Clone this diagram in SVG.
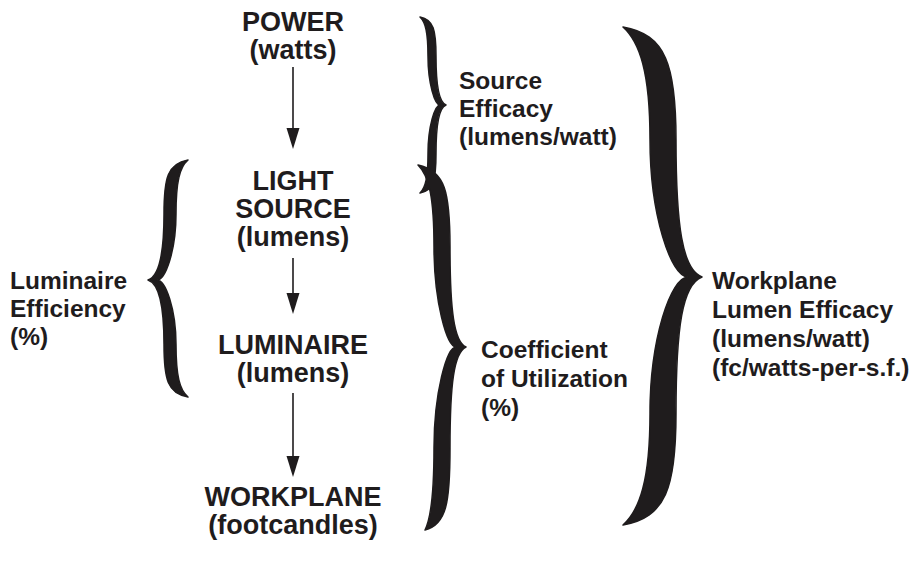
<svg xmlns="http://www.w3.org/2000/svg" width="917" height="568" viewBox="0 0 917 568">
<style>
.main{font-family:"Liberation Sans",Arial,Helvetica,sans-serif;font-weight:bold;font-size:27px;fill:#1f1c1d;text-anchor:middle}
.side{font-family:"Liberation Sans",Arial,Helvetica,sans-serif;font-weight:bold;font-size:24.5px;fill:#1f1c1d}
.brace{fill:#1f1c1d;stroke:#1f1c1d;stroke-width:1.5;stroke-linejoin:round}
.conn{stroke:#1f1c1d;stroke-width:1.6;fill:none}
.head{fill:#1f1c1d}
</style>
<rect width="917" height="568" fill="#ffffff"/>
<g id="connectors">
<line class="conn" x1="293" y1="67" x2="293" y2="129"/>
<path class="head" d="M286.5 128 L299.5 128 L293 149 Z"/>
<line class="conn" x1="293" y1="258" x2="293" y2="294"/>
<path class="head" d="M286.5 293 L299.5 293 L293 314 Z"/>
<line class="conn" x1="293" y1="393" x2="293" y2="457"/>
<path class="head" d="M286.5 456 L299.5 456 L293 477 Z"/>
</g>
<g id="node-power"><text class="main" x="293" y="31">POWER</text><text class="main" x="293" y="59">(watts)</text></g>
<g id="node-light-source"><text class="main" x="293" y="190">LIGHT</text><text class="main" x="293" y="218">SOURCE</text><text class="main" x="293" y="246">(lumens)</text></g>
<g id="node-luminaire"><text class="main" x="293" y="354">LUMINAIRE</text><text class="main" x="293" y="382">(lumens)</text></g>
<g id="node-workplane"><text class="main" x="293" y="506">WORKPLANE</text><text class="main" x="293" y="534">(footcandles)</text></g>
<g id="brace-luminaire-efficiency">
<path class="brace" d="M188 160 C167.6 163.6 164 178 164 214 C164 256 159 276.4 148 280 C159 283.5 164 303.4 164 344.35 C164 379.45 167.6 393.5 188 397 C179.6 390 176 375.9 176 344.35 C176 309.25 165.6 280 157 280 C165.6 280 176 250 176 214 C176 181.6 179.6 167.2 188 160 Z"/>
<text class="side" x="10" y="289">Luminaire</text><text class="side" x="10" y="317">Efficiency</text><text class="side" x="10" y="345">(%)</text>
</g>
<g id="brace-source-efficacy">
<path class="brace" d="M420 17 C433.6 19.6 436 30.2 436 56.6 C436 87.4 439 102.4 446 105 C439 107.6 436 122.6 436 153.4 C436 179.8 433.6 190.4 420 193 C425.6 187.7 428 177.2 428 153.4 C428 127 434.8 105 440 105 C434.8 105 428 83 428 56.6 C428 32.8 425.6 22.3 420 17 Z"/>
<text class="side" x="459" y="89">Source</text><text class="side" x="459" y="117">Efficacy</text><text class="side" x="459" y="145">(lumens/watt)</text>
</g>
<g id="brace-coefficient">
<path class="brace" d="M418 165 C445.2 170.5 450 192.3 450 246.9 C450 310.6 454 341.5 466 347 C454 352.5 450 383.6 450 447.65 C450 502.55 446.6 524.5 425 530 C430.6 519 434 497.1 434 447.65 C434 392.75 446.8 347 456 347 C446.8 347 434 301.5 434 246.9 C434 197.8 429.2 175.9 418 165 Z"/>
<text class="side" x="481" y="358">Coefficient</text><text class="side" x="481" y="387">of Utilization</text><text class="side" x="481" y="416">(%)</text>
</g>
<g id="brace-workplane-efficacy">
<path class="brace" d="M623 27 C665.6 34.5 676 64.5 676 139.5 C676 227 682.5 269.5 702 277 C682.5 284.4 676 326.6 676 413.4 C676 487.8 665.6 517.6 623 525 C639.6 510.1 650 480.4 650 413.4 C650 339 670.8 277 688 277 C670.8 277 650 214.5 650 139.5 C650 72 639.6 42 623 27 Z"/>
<text class="side" x="712" y="289">Workplane</text><text class="side" x="712" y="318">Lumen Efficacy</text><text class="side" x="712" y="347">(lumens/watt)</text><text class="side" x="712" y="376">(fc/watts-per-s.f.)</text>
</g>
</svg>
